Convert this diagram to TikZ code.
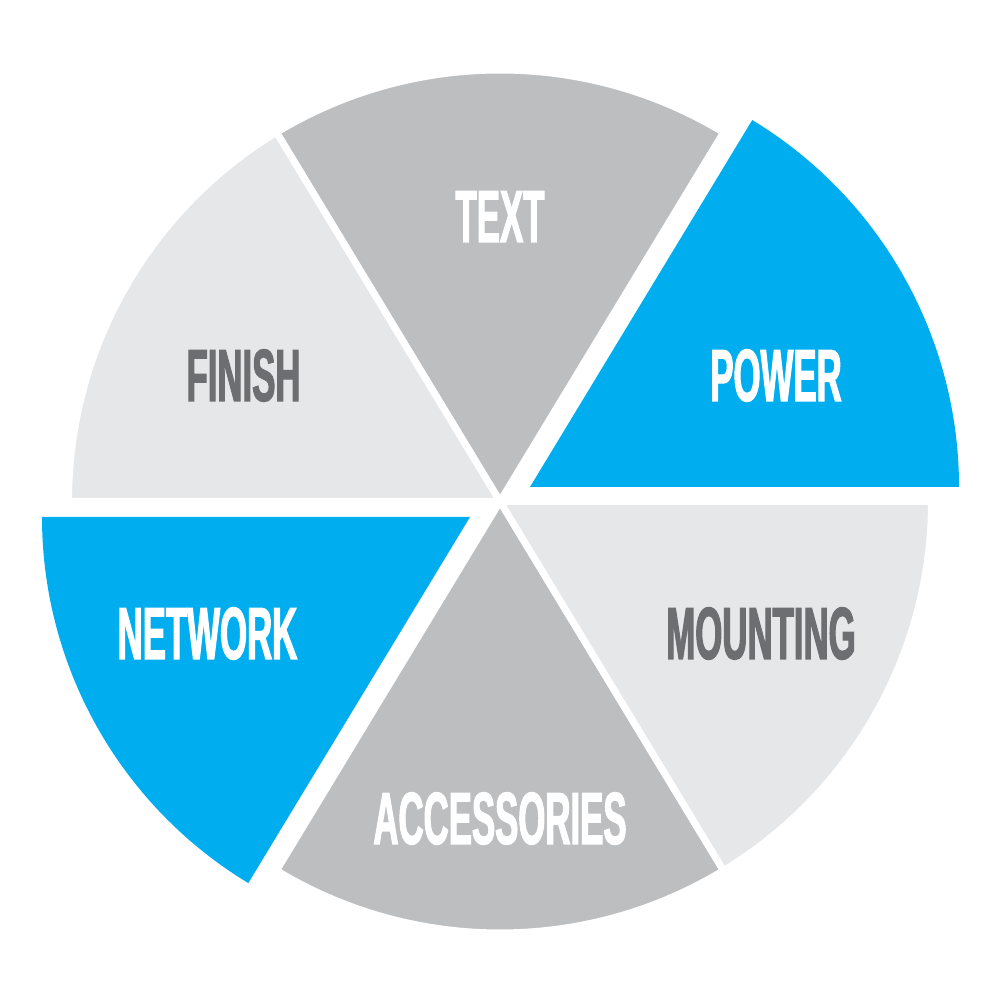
\documentclass[tikz,border=0pt]{standalone}
\usepackage{fontspec}
\newfontfamily\labfont{Liberation Sans}[FakeStretch=0.47, BoldFeatures={FakeBold=1.5}]
\definecolor{bluec}{HTML}{00AEEF}
\definecolor{midgray}{HTML}{BCBEC0}
\definecolor{lightgray}{HTML}{E6E7E8}
\definecolor{textgray}{HTML}{6D6E71}
\begin{document}
\begin{tikzpicture}[x=1pt,y=1pt,
  sector/.style={draw=white, line width=7pt, line join=miter},
  lab/.style={font=\labfont\bfseries\fontsize{74}{74}\selectfont, anchor=base, inner sep=0pt}]
\useasboundingbox (0,0) rectangle (1000,1000);
\coordinate (c) at (500,498.5);
\coordinate (pc) at (530,513);
\coordinate (nc) at (470,483);
% gray sectors
\path[sector, fill=midgray] (c) -- ++(58.8:431.5) arc[start angle=58.8, end angle=121.2, radius=431.5] -- cycle;
\path[sector, fill=lightgray] (c) -- ++(121.2:431.5) arc[start angle=121.2, end angle=180, radius=431.5] -- cycle;
\path[sector, fill=midgray] (c) -- ++(238.8:431.5) arc[start angle=238.8, end angle=301.2, radius=431.5] -- cycle;
\path[sector, fill=lightgray] (c) -- ++(301.2:431.5) arc[start angle=301.2, end angle=360, radius=431.5] -- cycle;
% exploded blue sectors
\fill[bluec] (pc) -- ++(0:429) arc[start angle=0, end angle=58.8, radius=429] -- cycle;
\fill[bluec] (nc) -- ++(180:428) arc[start angle=180, end angle=238.8, radius=428] -- cycle;
% labels
\node[lab, text=white] (text) at (500,758) {TEXT};
\node[lab, text=textgray] (finish) at (243.5,599) {FINISH};
\node[lab, text=white] (power) at (776,599) {POWER};
\node[lab, text=white] (network) at (207.5,341) {NETWORK};
\node[lab, text=textgray] (mounting) at (761,341) {MOUNTING};
\node[lab, text=white] (accessories) at (500,156) {ACCESSORIES};
\end{tikzpicture}
\end{document}
